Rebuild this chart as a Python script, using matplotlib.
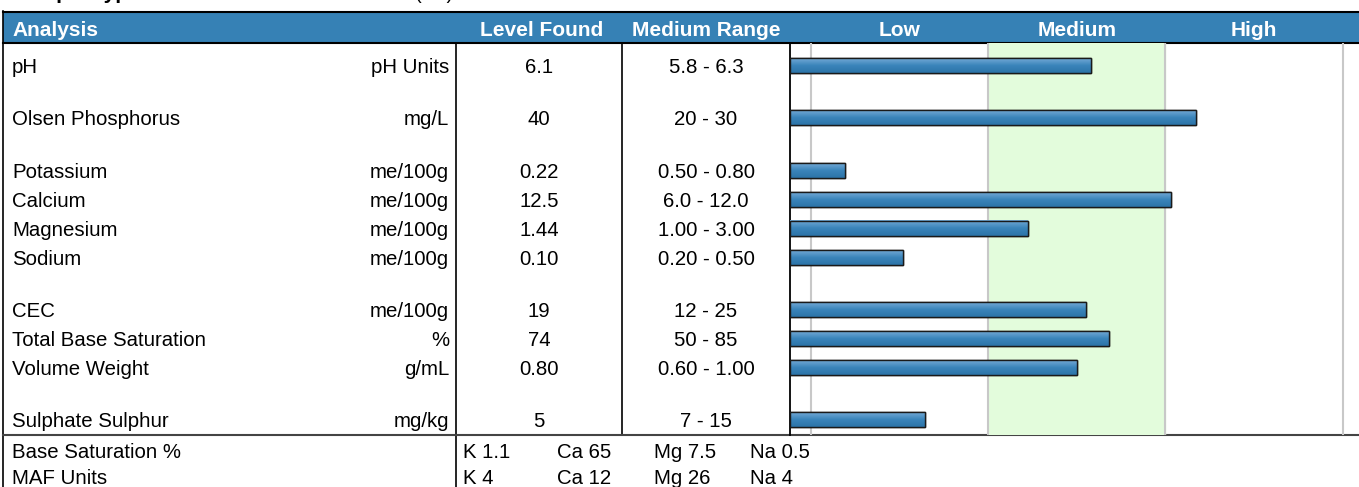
import numpy as np
import matplotlib.pyplot as plt
from matplotlib.colors import LinearSegmentedColormap

plt.rcParams['font.family'] = ['Liberation Sans', 'DejaVu Sans']

# --- donnees ---
analyses = ["pH", "Olsen Phosphorus", "Potassium", "Calcium", "Magnesium", "Sodium",
            "CEC", "Total Base Saturation", "Volume Weight", "Sulphate Sulphur"]
unites = ["pH Units", "mg/L", "me/100g", "me/100g", "me/100g", "me/100g",
          "me/100g", "%", "g/mL", "mg/kg"]
niveaux = ["6.1", "40", "0.22", "12.5", "1.44", "0.10", "19", "74", "0.80", "5"]
plages = ["5.8 - 6.3", "20 - 30", "0.50 - 0.80", "6.0 - 12.0", "1.00 - 3.00", "0.20 - 0.50",
          "12 - 25", "50 - 85", "0.60 - 1.00", "7 - 15"]
groupes = [0, 1, 2, 2, 2, 2, 3, 3, 3, 4]  # lignes vides entre les groupes
barres = [1.70, 2.29, 0.31, 2.15, 1.34, 0.64, 1.67, 1.80, 1.62, 0.76]  # longueur des barres (echelle du graphe)
zones = ["Low", "Medium", "High"]
bornes_zones = [0.117, 1.117, 2.117, 3.117]

bas_lignes = ["Base Saturation %", "MAF Units"]
bas_valeurs = [["K 1.1", "Ca 65", "Mg 7.5", "Na 0.5"],
               ["K 4", "Ca 12", "Mg 26", "Na 4"]]

bleu = "#3681b5"
vert = "#e3fcdc"
W, H = 1359, 487

fig = plt.figure(figsize=(W / 100, H / 100), dpi=100)
ax = fig.add_axes([0, 0, 1, 1])
ax.set_xlim(0, W)
ax.set_ylim(H, 0)
ax.axis("off")

# position verticale des lignes
ys = [65.5 + 29 * i + 23.3 * g for i, g in enumerate(groupes)]

fs = 14.7
fs_h = 15

# titre coupe en haut (comme sur l'original)
ax.text(12, -1, "Sample Type", fontsize=fs_h, fontweight="bold", va="baseline")
ax.text(415, -1, "(PA)", fontsize=fs, va="baseline")

# bandeau d'en-tete
ax.add_patch(plt.Rectangle((3, 11), W - 3, 32, facecolor=bleu, edgecolor="none"))
ax.plot([3, W], [11.5, 11.5], color="black", lw=1.5)
ax.plot([3, W], [43, 43], color="black", lw=1.5)
ax.text(12, 28, "Analysis", color="white", fontsize=fs_h, fontweight="bold", va="center_baseline")
ax.text(542, 28, "Level Found", color="white", fontsize=fs_h, fontweight="bold", va="center_baseline", ha="center")
ax.text(706, 28, "Medium Range", color="white", fontsize=fs_h, fontweight="bold", va="center_baseline", ha="center")

# lignes du tableau
ax.plot([3, 3], [11, H], color="black", lw=1.2)
ax.plot([456, 456], [43, H], color="black", lw=1.2)
ax.plot([622, 622], [43, 435], color="black", lw=1.2)
ax.plot([3, W], [435, 435], color="#444444", lw=1.5)

for y, nom, u, n, p in zip(ys, analyses, unites, niveaux, plages):
    ax.text(12, y, nom, fontsize=fs, va="center_baseline")
    ax.text(449, y, u, fontsize=fs, va="center_baseline", ha="right")
    ax.text(539, y, n, fontsize=fs, va="center_baseline", ha="center")
    ax.text(706, y, p, fontsize=fs, va="center_baseline", ha="center")

xs_bas = [463, 557, 654, 750]
for y, lab, vals in zip([450, 476], bas_lignes, bas_valeurs):
    ax.text(12, y, lab, fontsize=fs, va="center_baseline")
    for x, v in zip(xs_bas, vals):
        ax.text(x, y, v, fontsize=fs, va="center_baseline")

# --- graphe ---
x0 = 790
gx = fig.add_axes([x0 / W, (H - 435) / H, (W - x0) / W, (435 - 43) / H])
xmax = (W - x0) / 177.3
gx.axvspan(bornes_zones[1], bornes_zones[2], color=vert, zorder=0)
for b in bornes_zones:
    gx.axvline(b, color="#c8c8c8", lw=1.5, zorder=1)

cmap = LinearSegmentedColormap.from_list("bar", ["#74aad6", "#3a84ba", "#2c74a8"])
grad = np.linspace(0, 1, 50).reshape(-1, 1)
rects = gx.barh(ys, barres, height=15, left=0, color=bleu, edgecolor="black", lw=1.0, zorder=3)
for r in rects:
    bx, by = r.get_x(), r.get_y()
    gx.imshow(grad, extent=[bx, bx + r.get_width(), by + r.get_height(), by],
              aspect="auto", cmap=cmap, zorder=3.5, clip_path=r, clip_on=True)
    gx.add_patch(plt.Rectangle((bx, by), r.get_width(), r.get_height(), facecolor="none",
                               edgecolor="#1a1a1a", lw=1.0, zorder=4))

gx.set_xlim(0, xmax)
gx.set_ylim(435, 43)
gx.set_xticks([])
gx.set_yticks([])
for s in ["top", "right", "bottom"]:
    gx.spines[s].set_visible(False)
gx.spines["left"].set_linewidth(1.3)
gx.patch.set_alpha(0)

# etiquettes des zones dans l'en-tete
for i, z in enumerate(zones):
    xc = x0 + 177.3 * (bornes_zones[i] + bornes_zones[i + 1]) / 2
    ax.text(xc, 28, z, color="white", fontsize=fs_h, fontweight="bold", va="center_baseline", ha="center")

fig.savefig("out.png", dpi=100)
